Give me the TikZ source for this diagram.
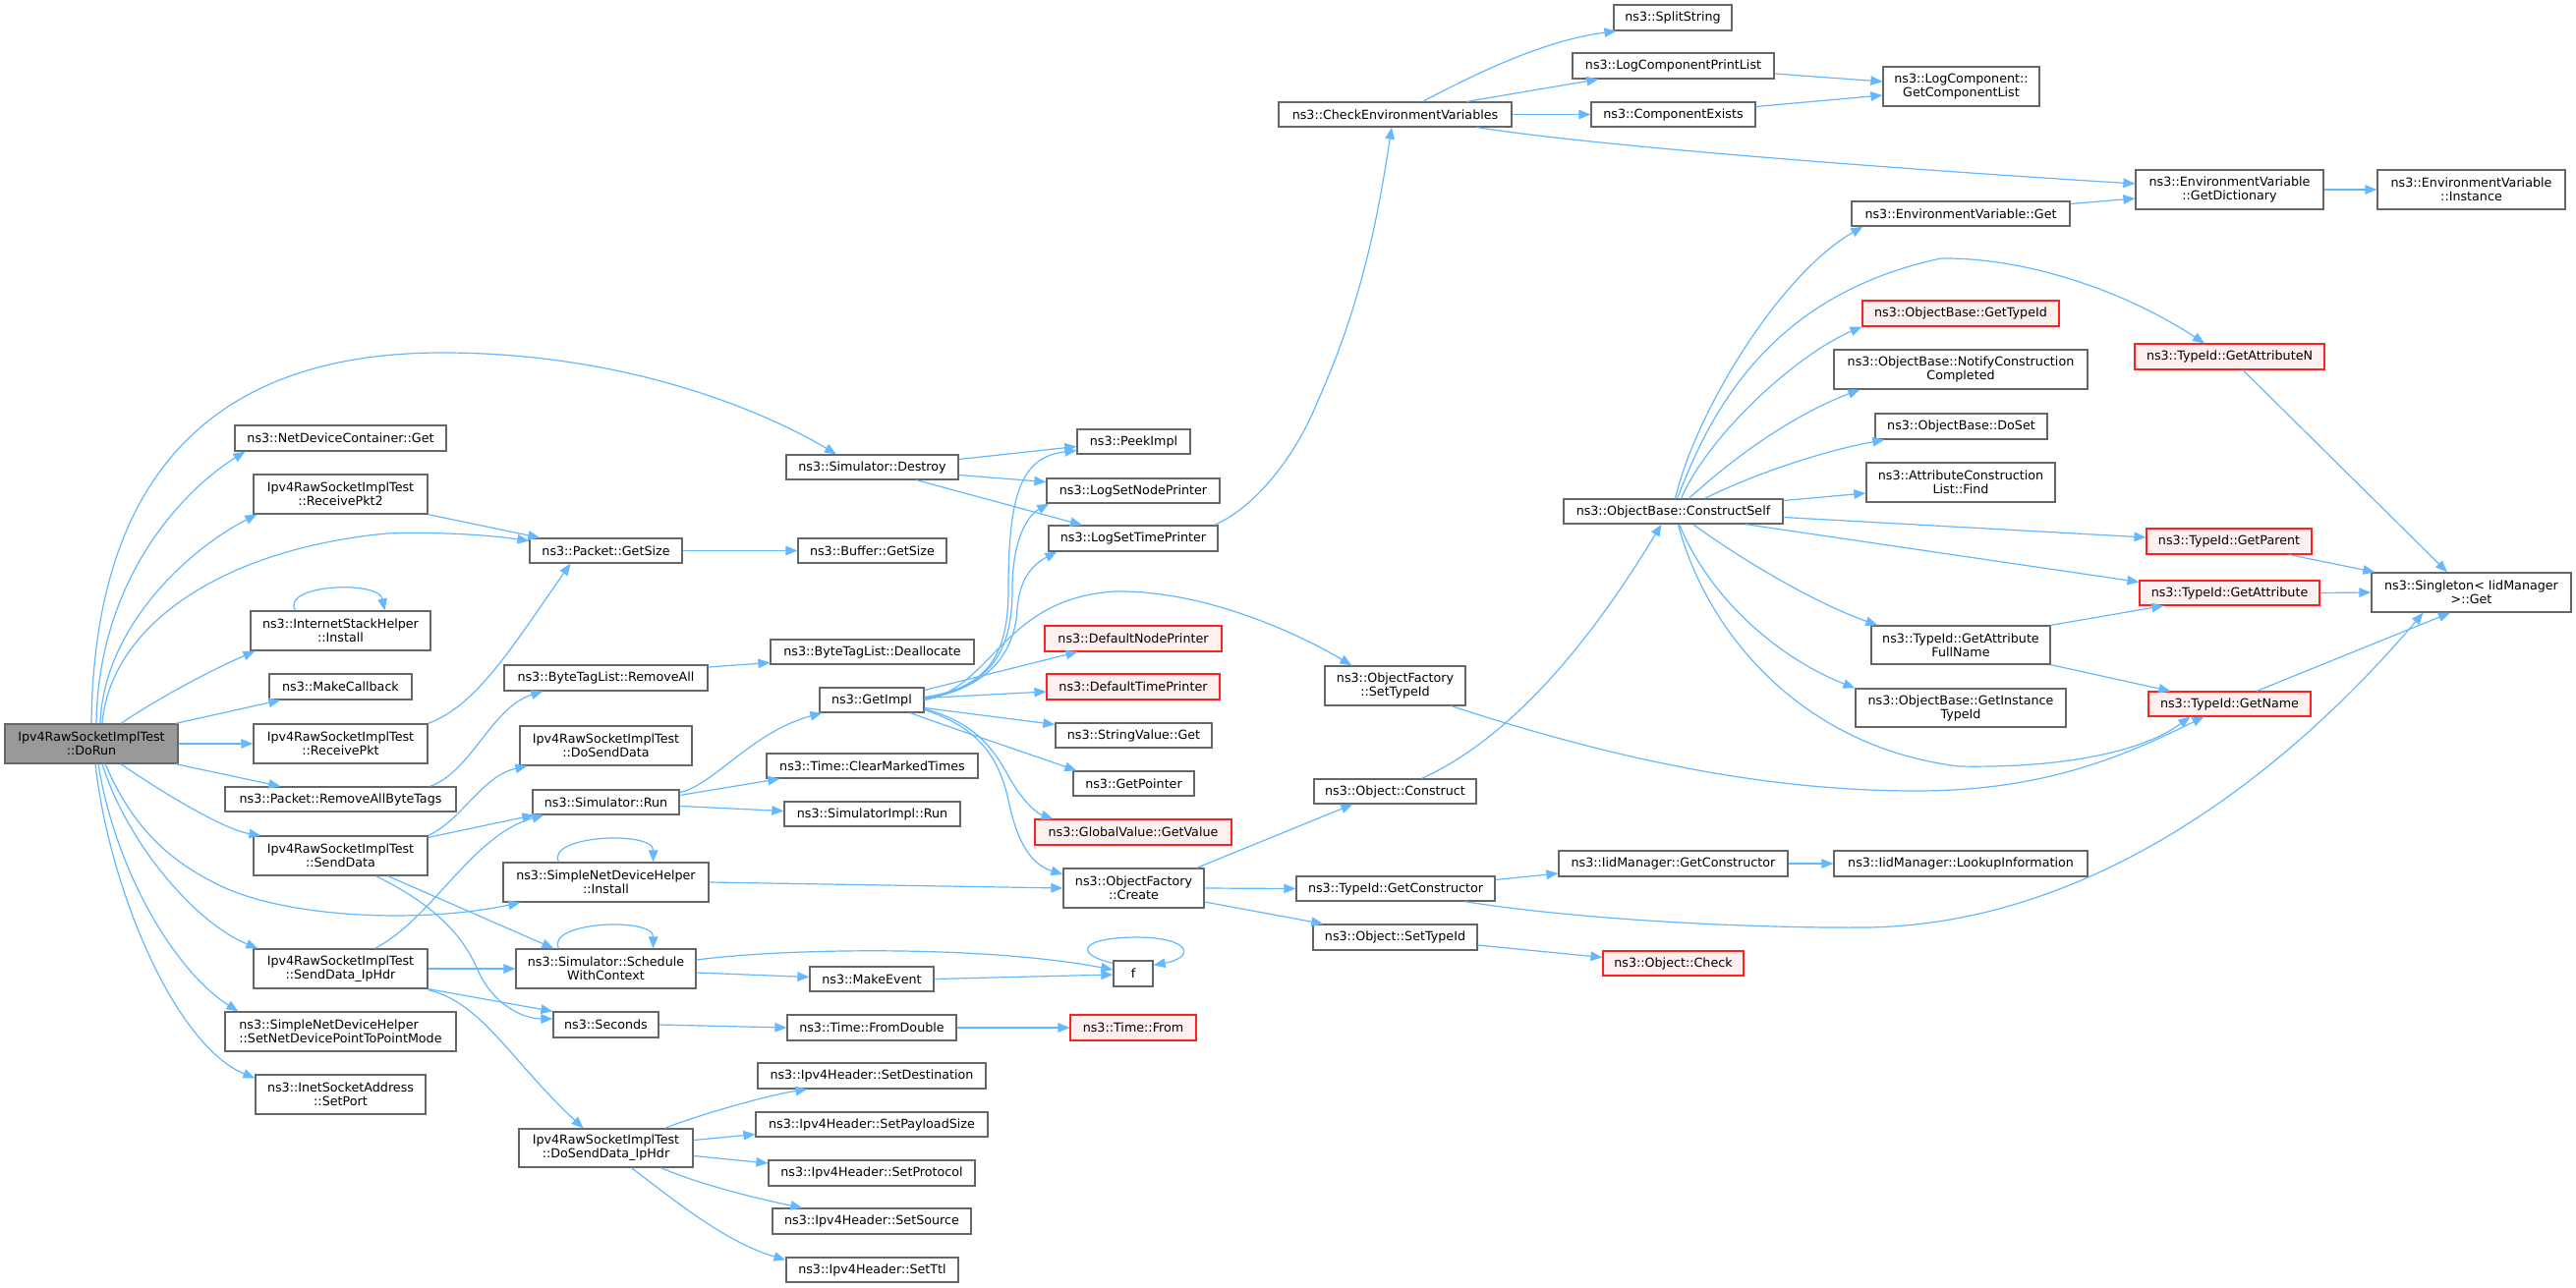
\documentclass[tikz,border=0pt]{standalone}
\usepackage{fontspec}
\setmainfont{DejaVu Sans}
\usetikzlibrary{arrows.meta}
\definecolor{edgeblue}{HTML}{63B8FF}
\definecolor{ndgray}{HTML}{666666}
\definecolor{redfill}{HTML}{FFF0F0}
\definecolor{rootgray}{HTML}{999999}
\definecolor{redline}{HTML}{FF2020}
\tikzset{
  gnode/.style={draw=ndgray, line width=1.25pt, fill=white, inner sep=0pt, align=center,
    font=\fontsize{12.7}{14}\selectfont},
  rnode/.style={gnode, draw=redline, line width=1.1pt, fill=redfill},
  edg/.style={draw=edgeblue, line width=1.2pt, -{Triangle[length=12pt,width=9.5pt]}},
}
\begin{document}
\begin{tikzpicture}[x=1pt,y=-1pt]
\fill[white] (0,0) rectangle (2621,1311);
\useasboundingbox (0,0) rectangle (2621,1311);
% ---------- column 1
\node[gnode, fill=rootgray, minimum width=176pt, minimum height=40pt] (dorun) at (93,757) {Ipv4RawSocketImplTest\\::DoRun};
\node[gnode, minimum width=215pt, minimum height=26pt] (ndcget) at (346.5,446) {ns3::NetDeviceContainer::Get};
\node[gnode, minimum width=177pt, minimum height=40pt] (rp2) at (346.5,503) {Ipv4RawSocketImplTest\\::ReceivePkt2};
\node[gnode, minimum width=183pt, minimum height=40pt] (ish) at (346.5,642) {ns3::InternetStackHelper\\::Install};
\node[gnode, minimum width=145pt, minimum height=26pt] (mcb) at (346.5,699) {ns3::MakeCallback};
\node[gnode, minimum width=177pt, minimum height=40pt] (rp) at (346.5,757) {Ipv4RawSocketImplTest\\::ReceivePkt};
\node[gnode, minimum width=235pt, minimum height=25pt] (rabt) at (346.5,813.5) {ns3::Packet::RemoveAllByteTags};
\node[gnode, minimum width=177pt, minimum height=40pt] (sd) at (346.5,871) {Ipv4RawSocketImplTest\\::SendData};
\node[gnode, minimum width=177pt, minimum height=40pt] (sdip) at (346.5,986) {Ipv4RawSocketImplTest\\::SendData\_IpHdr};
\node[gnode, align=left, minimum width=235pt, minimum height=40pt] (sndp2p) at (346.5,1050) {ns3::SimpleNetDeviceHelper\\::SetNetDevicePointToPointMode};
\node[gnode, minimum width=173pt, minimum height=40pt] (setport) at (346.5,1114) {ns3::InetSocketAddress\\::SetPort};
% ---------- column 2
\node[gnode, minimum width=155pt, minimum height=25pt] (pgs) at (616.5,560.5) {ns3::Packet::GetSize};
\node[gnode, minimum width=207pt, minimum height=26pt] (btlra) at (616.5,690) {ns3::ByteTagList::RemoveAll};
\node[gnode, minimum width=175pt, minimum height=40pt] (dsd) at (616.5,759) {Ipv4RawSocketImplTest\\::DoSendData};
\node[gnode, minimum width=149pt, minimum height=25pt] (srun) at (616.5,816.5) {ns3::Simulator::Run};
\node[gnode, minimum width=209pt, minimum height=40pt] (sndinst) at (616.5,898) {ns3::SimpleNetDeviceHelper\\::Install};
\node[gnode, minimum width=183pt, minimum height=40pt] (swc) at (616.5,986) {ns3::Simulator::Schedule\\WithContext};
\node[gnode, minimum width=107pt, minimum height=26pt] (secs) at (616.5,1043) {ns3::Seconds};
\node[gnode, minimum width=177pt, minimum height=39pt] (dsdip) at (616.5,1168.5) {Ipv4RawSocketImplTest\\::DoSendData\_IpHdr};
% ---------- column 3
\node[gnode, minimum width=175pt, minimum height=25pt] (destroy) at (887.5,475.5) {ns3::Simulator::Destroy};
\node[gnode, minimum width=151pt, minimum height=25pt] (bgs) at (887.5,560.5) {ns3::Buffer::GetSize};
\node[gnode, minimum width=207pt, minimum height=25pt] (btld) at (887.5,663.5) {ns3::ByteTagList::Deallocate};
\node[gnode, minimum width=106pt, minimum height=25pt] (getimpl) at (887,712.5) {ns3::GetImpl};
\node[gnode, minimum width=215pt, minimum height=25pt] (cmt) at (887.5,779.5) {ns3::Time::ClearMarkedTimes};
\node[gnode, minimum width=179pt, minimum height=25pt] (simrun) at (887.5,828.5) {ns3::SimulatorImpl::Run};
\node[gnode, minimum width=126pt, minimum height=25pt] (mkev) at (887,996.5) {ns3::MakeEvent};
\node[gnode, minimum width=172pt, minimum height=26pt] (fromdbl) at (887,1046) {ns3::Time::FromDouble};
\node[gnode, minimum width=232pt, minimum height=26pt] (setdst) at (887,1095) {ns3::Ipv4Header::SetDestination};
\node[gnode, minimum width=236pt, minimum height=25pt] (setpl) at (887,1144.5) {ns3::Ipv4Header::SetPayloadSize};
\node[gnode, minimum width=210pt, minimum height=26pt] (setproto) at (887,1194) {ns3::Ipv4Header::SetProtocol};
\node[gnode, minimum width=202pt, minimum height=26pt] (setsrc) at (887,1243) {ns3::Ipv4Header::SetSource};
\node[gnode, minimum width=175pt, minimum height=25pt] (setttl) at (887.5,1292.5) {ns3::Ipv4Header::SetTtl};
% ---------- column 4
\node[gnode, minimum width=115pt, minimum height=25pt] (peek) at (1153.5,449.5) {ns3::PeekImpl};
\node[gnode, minimum width=176pt, minimum height=25pt] (lsnp) at (1153,499.5) {ns3::LogSetNodePrinter};
\node[gnode, minimum width=172pt, minimum height=26pt] (lstp) at (1153,548) {ns3::LogSetTimePrinter};
\node[rnode, minimum width=180pt, minimum height=26pt] (dnp) at (1153,650) {ns3::DefaultNodePrinter};
\node[rnode, minimum width=176pt, minimum height=26pt] (dtp) at (1153,699) {ns3::DefaultTimePrinter};
\node[gnode, minimum width=159pt, minimum height=25pt] (svget) at (1153.5,748.5) {ns3::StringValue::Get};
\node[gnode, minimum width=123pt, minimum height=25pt] (getptr) at (1153.5,797.5) {ns3::GetPointer};
\node[rnode, minimum width=200pt, minimum height=26pt] (gvget) at (1153,847) {ns3::GlobalValue::GetValue};
\node[gnode, minimum width=143pt, minimum height=40pt] (ofcreate) at (1153.5,904) {ns3::ObjectFactory\\::Create};
\node[gnode, minimum width=40pt, minimum height=26pt] (fnode) at (1153,991) {f};
\node[rnode, minimum width=128pt, minimum height=26pt] (tfrom) at (1153,1046) {ns3::Time::From};
% ---------- column 5
\node[gnode, minimum width=237pt, minimum height=25pt] (cev) at (1419.5,116.5) {ns3::CheckEnvironmentVariables};
\node[gnode, minimum width=143pt, minimum height=40pt] (ofsti) at (1419.5,698) {ns3::ObjectFactory\\::SetTypeId};
\node[gnode, minimum width=165pt, minimum height=25pt] (oconstruct) at (1419.5,805.5) {ns3::Object::Construct};
\node[gnode, minimum width=202pt, minimum height=25pt] (tgc) at (1420,904.5) {ns3::TypeId::GetConstructor};
\node[gnode, minimum width=167pt, minimum height=26pt] (osti) at (1419.5,954) {ns3::Object::SetTypeId};
% ---------- column 6
\node[gnode, minimum width=120pt, minimum height=26pt] (split) at (1702,18) {ns3::SplitString};
\node[gnode, minimum width=205pt, minimum height=26pt] (lcpl) at (1702.5,67) {ns3::LogComponentPrintList};
\node[gnode, minimum width=167pt, minimum height=25pt] (cexists) at (1702.5,116.5) {ns3::ComponentExists};
\node[gnode, minimum width=223pt, minimum height=25pt] (cself) at (1702.5,520.5) {ns3::ObjectBase::ConstructSelf};
\node[gnode, minimum width=233pt, minimum height=26pt] (iidgc) at (1702.5,879) {ns3::IidManager::GetConstructor};
\node[rnode, minimum width=143pt, minimum height=25pt] (ocheck) at (1702.5,980.5) {ns3::Object::Check};
% ---------- column 7
\node[gnode, minimum width=159pt, minimum height=40pt] (lcgcl) at (1995.5,88) {ns3::LogComponent::\\GetComponentList};
\node[gnode, minimum width=222pt, minimum height=25pt] (evget) at (1995,217.5) {ns3::EnvironmentVariable::Get};
\node[rnode, minimum width=200pt, minimum height=26pt] (obgti) at (1995,319) {ns3::ObjectBase::GetTypeId};
\node[gnode, minimum width=258pt, minimum height=40pt] (obncc) at (1995,376) {ns3::ObjectBase::NotifyConstruction\\Completed};
\node[gnode, minimum width=175pt, minimum height=26pt] (doset) at (1995.5,434) {ns3::ObjectBase::DoSet};
\node[gnode, minimum width=192pt, minimum height=40pt] (aclf) at (1995,491) {ns3::AttributeConstruction\\List::Find};
\node[gnode, minimum width=182pt, minimum height=39pt] (gafn) at (1995,656.5) {ns3::TypeId::GetAttribute\\FullName};
\node[gnode, minimum width=214pt, minimum height=39pt] (gitid) at (1995,720.5) {ns3::ObjectBase::GetInstance\\TypeId};
\node[gnode, minimum width=258pt, minimum height=26pt] (lookup) at (1995,879) {ns3::IidManager::LookupInformation};
% ---------- column 8
\node[gnode, minimum width=191pt, minimum height=40pt] (gdict) at (2268.5,193) {ns3::EnvironmentVariable\\::GetDictionary};
\node[rnode, minimum width=193pt, minimum height=26pt] (gattrn) at (2268.5,363) {ns3::TypeId::GetAttributeN};
\node[rnode, minimum width=168pt, minimum height=26pt] (gparent) at (2268,551) {ns3::TypeId::GetParent};
\node[rnode, minimum width=183pt, minimum height=25pt] (gattr) at (2268.5,603.5) {ns3::TypeId::GetAttribute};
\node[rnode, minimum width=165pt, minimum height=25pt] (gname) at (2268.5,716.5) {ns3::TypeId::GetName};
% ---------- column 9
\node[gnode, minimum width=191pt, minimum height=40pt] (inst) at (2514.5,193) {ns3::EnvironmentVariable\\::Instance};
\node[gnode, minimum width=203pt, minimum height=40pt] (singleton) at (2514.5,603) {ns3::Singleton< IidManager\\>::Get};

% ================= edges
% DoRun
\draw[edg] (dorun.north) .. controls (96,470) and (230,359) .. (450,359) .. controls (640,359) and (780,420) .. ([xshift=-36.5pt]destroy.north);
\draw[edg] ([xshift=5pt]dorun.north) .. controls (100,590) and (185,500) .. ([xshift=11pt]ndcget.south west);
\draw[edg] ([xshift=9pt]dorun.north) .. controls (105,640) and (190,560) .. ([xshift=4pt]rp2.south west);
\draw[edg] ([xshift=11pt]dorun.north) .. controls (112,640) and (220,560) .. (393,543) .. controls (450,541) and (500,545) .. ([yshift=10pt]pgs.west);
\draw[edg] ([xshift=30pt]dorun.north) .. controls (170,705) and (220,680) .. ([xshift=5pt]ish.south west);
\draw[edg] ([xshift=-3pt]dorun.north east) -- ([xshift=12pt]mcb.south west);
\draw[edg] (dorun.east) -- (rp.west);
\draw[edg] ([xshift=-3pt]dorun.south east) -- ([xshift=57pt]rabt.north west);
\draw[edg] ([xshift=30pt]dorun.south) .. controls (170,810) and (230,845) .. ([xshift=8pt]sd.north west);
\draw[edg] ([xshift=14pt]dorun.south) .. controls (130,830) and (160,870) .. (221,900) .. controls (290,935) and (430,940) .. ([xshift=18pt]sndinst.south west);
\draw[edg] ([xshift=11pt]dorun.south) .. controls (130,860) and (200,940) .. ([xshift=5pt]sdip.north west);
\draw[edg] ([xshift=7pt]dorun.south) .. controls (118,890) and (180,990) .. ([xshift=14pt]sndp2p.north west);
\draw[edg] ([xshift=4pt]dorun.south) .. controls (112,910) and (180,1065) .. ([yshift=-4pt]setport.north west);
% ReceivePkt2 / ReceivePkt
\draw[edg] (rp2.south east) -- ([xshift=11pt]pgs.north west);
\draw[edg] (rp.north east) .. controls (485,718) and (520,660) .. ([xshift=-36pt]pgs.south);
% InternetStackHelper self loop
\draw[edg] ([xshift=-46pt]ish.north) .. controls (285,595) and (385,590) .. ([xshift=45pt]ish.north);
% RemoveAllByteTags
\draw[edg] ([xshift=-27pt]rabt.north east) .. controls (480,785) and (500,720) .. ([xshift=40pt]btlra.south west);
\draw[edg] (pgs.east) -- (bgs.west);
\draw[edg] ([yshift=11pt]btlra.east) -- ([yshift=-11pt]btld.west);
% SendData
\draw[edg] (sd.north east) .. controls (470,835) and (490,790) .. ([xshift=8pt]dsd.south west);
\draw[edg] ([yshift=-2pt]sd.north east) -- ([xshift=2pt]srun.south west);
\draw[edg] ([xshift=48pt]sd.south) -- ([xshift=39pt]swc.north west);
\draw[edg] ([xshift=36pt]sd.south) .. controls (440,920) and (470,950) .. (486,987) .. controls (500,1020) and (530,1037) .. ([yshift=6pt]secs.west);
% SendData_IpHdr
\draw[edg] ([xshift=35pt]sdip.north) .. controls (440,935) and (480,850) .. ([xshift=12pt]srun.south west);
\draw[edg] (sdip.east) -- (swc.west);
\draw[edg] (sdip.south east) -- (secs.north west);
\draw[edg] ([yshift=-1pt]sdip.south east) .. controls (490,1020) and (520,1080) .. ([xshift=-23pt]dsdip.north);
% SimpleNetDeviceHelper::Install
\draw[edg] ([xshift=-48pt]sndinst.north) .. controls (555,850) and (665,845) .. ([xshift=48pt]sndinst.north);
\draw[edg] (sndinst.east) -- (ofcreate.west);
% ScheduleWithContext
\draw[edg] ([xshift=-48pt]swc.north) .. controls (555,938) and (665,933) .. ([xshift=48pt]swc.north);
\draw[edg] ([yshift=9pt]swc.east) .. controls (800,965) and (1000,962) .. ([yshift=4pt]fnode.west);
\draw[edg] ([yshift=-4pt]swc.east) -- ([yshift=2pt]mkev.west);
\draw[edg] (mkev.east) -- ([yshift=-1pt]fnode.west);
\draw[edg] ([yshift=-3pt]fnode.north west) .. controls (1095,972) and (1095,955) .. (1154,954) .. controls (1215,954) and (1215,975) .. ([yshift=-5pt]fnode.north east);
% Seconds
\draw[edg] (secs.east) -- (fromdbl.west);
\draw[edg] (fromdbl.east) -- (tfrom.west);
% DoSendData_IpHdr
\draw[edg] ([xshift=60pt]dsdip.north) .. controls (710,1135) and (780,1115) .. ([xshift=51pt]setdst.south west);
\draw[edg] ([yshift=8pt]dsdip.east) -- ([yshift=-10pt]setpl.west);
\draw[edg] ([yshift=-8pt]dsdip.east) -- ([yshift=10pt]setproto.west);
\draw[edg] ([xshift=56pt]dsdip.south) .. controls (710,1205) and (770,1220) .. ([xshift=31pt]setsrc.north west);
\draw[edg] ([xshift=26pt]dsdip.south) .. controls (690,1225) and (740,1265) .. ([yshift=-3pt]setttl.north west);
% Simulator::Run
\draw[edg] ([yshift=10pt]srun.east) .. controls (725,800) and (765,745) .. ([xshift=3pt]getimpl.south west);
\draw[edg] ([yshift=7pt]srun.east) -- ([xshift=14pt]cmt.south west);
\draw[edg] ([yshift=-4pt]srun.east) -- ([yshift=3pt]simrun.west);
% Simulator::Destroy
\draw[edg] ([yshift=8pt]destroy.east) -- ([yshift=-5pt]peek.west);
\draw[edg] ([yshift=-8pt]destroy.east) -- ([yshift=9pt]lsnp.west);
\draw[edg] ([xshift=45pt]destroy.south) -- ([xshift=-52pt]lstp.north);
% GetImpl
\draw[edg] ([yshift=3pt]getimpl.east) .. controls (1010,700) and (1026,660) .. (1026,600) .. controls (1026,500) and (1040,465) .. ([yshift=-9pt]peek.west);
\draw[edg] ([yshift=2pt]getimpl.east) .. controls (1010,700) and (1030,660) .. (1030,600) .. controls (1030,550) and (1045,525) .. ([xshift=3pt]lsnp.south west);
\draw[edg] ([yshift=1pt]getimpl.east) .. controls (1010,700) and (1033,660) .. (1035,620) .. controls (1037,590) and (1050,575) .. ([xshift=9pt]lstp.south west);
\draw[edg] (getimpl.east) .. controls (1010,700) and (1020,610) .. (1133,602) .. controls (1230,600) and (1330,650) .. ([xshift=28pt]ofsti.north west);
\draw[edg] ([yshift=10pt]getimpl.east) -- ([xshift=34pt]dnp.south west);
\draw[edg] ([yshift=2pt]getimpl.east) -- ([yshift=-5pt]dtp.west);
\draw[edg] ([yshift=-8pt]getimpl.east) -- ([yshift=11pt]svget.west);
\draw[edg] ([xshift=39pt]getimpl.south) .. controls (980,745) and (1040,765) .. ([xshift=4pt]getptr.north west);
\draw[edg] ([yshift=-9pt]getimpl.east) .. controls (990,735) and (1010,760) .. (1026,790) .. controls (1040,815) and (1055,828) .. ([xshift=19pt]gvget.north west);
\draw[edg] ([yshift=-10pt]getimpl.east) .. controls (995,740) and (1015,770) .. (1025,810) .. controls (1035,860) and (1050,880) .. ([yshift=14pt]ofcreate.west);
% LogSetTimePrinter -> CheckEnvironmentVariables
\draw[edg] ([xshift=-4pt]lstp.north east) .. controls (1280,515) and (1320,460) .. (1340,410) .. controls (1390,300) and (1405,200) .. ([xshift=-3.5pt]cev.south);
% CheckEnvironmentVariables
\draw[edg] ([xshift=28pt]cev.north) .. controls (1520,65) and (1580,40) .. ([xshift=3pt]split.south west);
\draw[edg] ([xshift=73pt]cev.north) -- ([xshift=27pt]lcpl.south west);
\draw[edg] (cev.east) -- (cexists.west);
\draw[edg] ([xshift=-36pt]cev.south east) .. controls (1620,148) and (1900,170) .. ([yshift=6pt]gdict.west);
\draw[edg] ([yshift=-8pt]lcpl.east) -- ([yshift=5pt]lcgcl.west);
\draw[edg] ([yshift=8pt]cexists.east) -- ([yshift=-9pt]lcgcl.west);
\draw[edg] ([yshift=10pt]evget.east) -- ([yshift=-9pt]gdict.west);
\draw[edg] (gdict.east) -- (inst.west);
% ObjectFactory::SetTypeId
\draw[edg] ([xshift=-15pt]ofsti.south east) .. controls (1650,775) and (1800,805) .. (1950,805) .. controls (2080,805) and (2160,770) .. ([xshift=57pt]gname.south west);
% ObjectFactory::Create
\draw[edg] ([xshift=-8pt]ofcreate.north east) -- ([xshift=40pt]oconstruct.south west);
\draw[edg] (ofcreate.east) -- (tgc.west);
\draw[edg] ([yshift=-14pt]ofcreate.east) -- ([xshift=11pt]osti.north west);
\draw[edg] ([xshift=27pt]oconstruct.north) .. controls (1540,750) and (1620,650) .. ([xshift=-12pt]cself.south);
% TypeId::GetConstructor
\draw[edg] ([yshift=9pt]tgc.east) -- ([yshift=-10pt]iidgc.west);
\draw[edg] ([xshift=70pt]tgc.south) .. controls (1620,938) and (1800,945) .. (1900,944) .. controls (2150,940) and (2350,760) .. ([xshift=-49pt]singleton.south);
\draw[edg] (iidgc.east) -- (lookup.west);
\draw[edg] ([yshift=-8pt]osti.east) -- ([yshift=6pt]ocheck.west);
% ConstructSelf
\draw[edg] ([xshift=2pt]cself.north) .. controls (1725,420) and (1810,280) .. ([xshift=12pt]evget.south west);
\draw[edg] ([xshift=4pt]cself.north) .. controls (1740,420) and (1800,300) .. (1975,263) .. controls (2060,262) and (2160,295) .. ([xshift=-25.5pt]gattrn.north);
\draw[edg] ([xshift=8pt]cself.north) .. controls (1740,440) and (1830,360) .. (obgti.south west);
\draw[edg] ([xshift=16pt]cself.north) .. controls (1770,460) and (1830,420) .. ([xshift=27pt]obncc.south west);
\draw[edg] ([xshift=32pt]cself.north) .. controls (1790,480) and (1860,458) .. ([xshift=10pt]doset.south west);
\draw[edg] ([yshift=11pt]cself.east) -- ([yshift=-11pt]aclf.west);
\draw[edg] ([yshift=-6pt]cself.east) -- ([yshift=4pt]gparent.west);
\draw[edg] ([xshift=73.5pt]cself.south) -- ([yshift=-2pt]gattr.north west);
\draw[edg] ([xshift=20pt]cself.south) .. controls (1780,575) and (1850,615) .. ([xshift=7pt]gafn.north west);
\draw[edg] ([xshift=6pt]cself.south) .. controls (1740,610) and (1810,670) .. (gitid.north west);
\draw[edg] ([xshift=5pt]cself.south) .. controls (1735,640) and (1830,760) .. (1993,780) .. controls (2100,782) and (2180,765) .. ([xshift=43pt]gname.south west);
% into Singleton
\draw[edg] ([xshift=13.5pt]gattrn.south) -- ([xshift=-24.5pt]singleton.north);
\draw[edg] ([xshift=61pt]gparent.south) -- ([xshift=4pt]singleton.north west);
\draw[edg] (gattr.east) -- (singleton.west);
\draw[edg] ([xshift=27.5pt]gname.north) -- ([xshift=-21.5pt]singleton.south);
\draw[edg] (gafn.north east) -- ([xshift=25pt]gattr.south west);
\draw[edg] (gafn.south east) -- ([xshift=23pt]gname.north west);
\end{tikzpicture}
\end{document}
